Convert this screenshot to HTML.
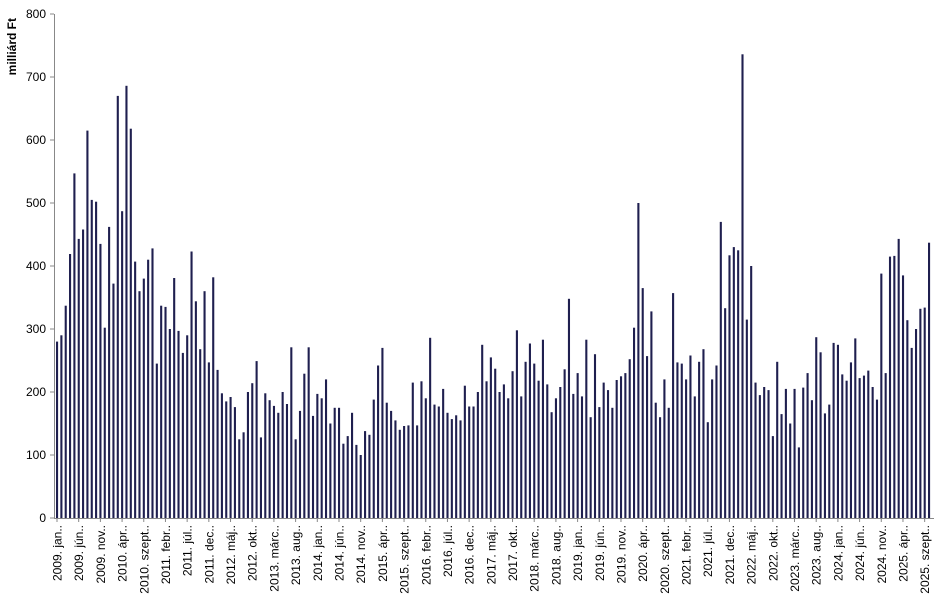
<!DOCTYPE html>
<html><head><meta charset="utf-8"><style>body{margin:0;background:#fff}svg{display:block}</style></head>
<body>
<svg id="c" width="945" height="616" xmlns="http://www.w3.org/2000/svg" font-family="Liberation Sans, sans-serif"></svg>
<script>
const d=[280,290,337,419,547,443,458,615,505,502,435,302,
462,372,670,487,686,618,407,360,380,410,428,245,
337,335,300,381,297,262,290,423,344,268,360,247,
382,235,198,185,192,176,125,136,200,214,249,128,
198,187,178,167,200,181,271,125,170,229,271,162,
197,190,220,150,175,175,118,130,167,116,100,138,
132,188,242,270,183,170,155,140,146,147,215,147,
217,190,286,180,177,205,167,157,163,155,210,177,
177,200,275,217,255,237,200,212,190,233,298,193,
248,277,245,218,283,212,168,190,208,236,348,197,
230,193,283,160,260,176,215,203,175,219,225,230,
252,302,500,365,257,328,183,160,220,175,357,247,
245,220,258,193,248,268,152,220,242,470,333,417,
430,425,736,315,400,215,195,208,203,130,248,165,
205,150,205,112,207,230,187,287,263,166,180,278,
275,228,218,247,285,222,226,234,208,188,388,230,
415,416,443,385,314,270,300,332,334,437];
const m=["jan.","febr.","márc.","ápr.","máj.","jún.","júl.","aug.","szept.","okt.","nov.","dec."];
const N=d.length,x0=57,x1=929,st=(x1-x0)/(N-1),Y=v=>518-v*0.63;
let s='<text transform="translate(16,18) rotate(-90)" font-size="12" font-weight="bold" text-anchor="end">milliárd Ft</text>';
s+='<line x1="54.5" y1="14" x2="54.5" y2="518" stroke="#888"/><line x1="54" y1="518.5" x2="934" y2="518.5" stroke="#888"/>';
for(let v=0;v<=800;v+=100){const y=Y(v);s+=`<line x1="50" y1="${y}" x2="54" y2="${y}" stroke="#888"/><text x="46" y="${y+4}" font-size="12" text-anchor="end">${v}</text>`;}
d.forEach((v,i)=>{const x=x0+i*st;s+=`<rect x="${(x-1).toFixed(2)}" y="${Y(v).toFixed(1)}" width="2.1" height="${(v*0.63).toFixed(1)}" fill="#1f1f4f"/>`;
if(i%5==0){const yr=2009+Math.floor(i/12);s+=`<line x1="${x}" y1="518" x2="${x}" y2="522" stroke="#888"/><text transform="translate(${x+4.5},525) rotate(-90)" font-size="12" text-anchor="end">${yr}. ${m[i%12]}.</text>`;}});
document.getElementById('c').innerHTML=s;
</script>
</body></html>
